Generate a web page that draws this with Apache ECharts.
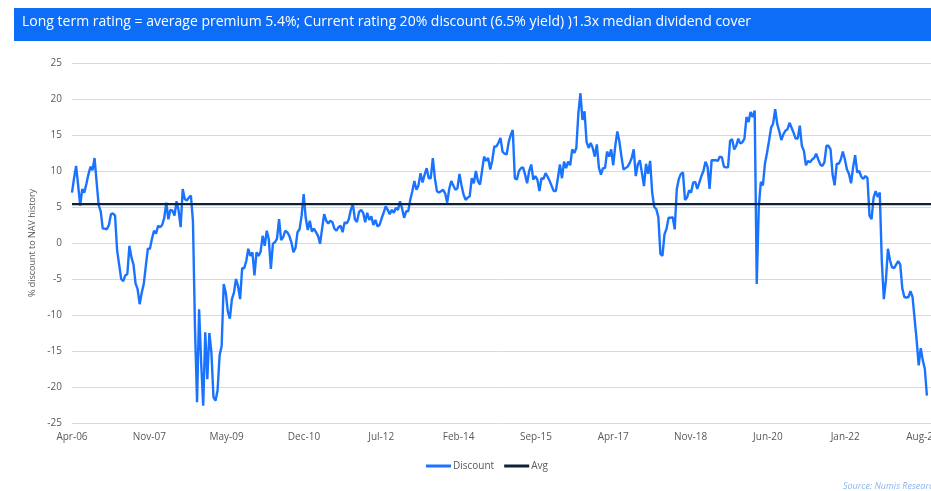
<!DOCTYPE html>
<html><head><meta charset="utf-8">
<script src="https://cdn.jsdelivr.net/npm/echarts@6/dist/echarts.min.js"></script>
<style>html,body{margin:0;padding:0;background:#fff}#c{width:931px;height:491px}</style>
</head><body><div id="c"></div>
<script>
const TITLE = "Long term rating = average premium 5.4%; Current rating 20% discount (6.5% yield) )1.3x median dividend cover";
const Y_NAME = "% discount to NAV history";
const SOURCE = "Source: Numis Research";
const seriesNames = ["Discount", "Avg"];
const tickLabels = ["Apr-06","Nov-07","May-09","Dec-10","Jul-12","Feb-14","Sep-15","Apr-17","Nov-18","Jun-20","Jan-22","Aug-23"];
const yTicks = { min: -25, max: 25, step: 5 };
const TICK_STEP = 37.714;   // semi-monthly points between axis labels
const X_MAX = 419;          // semi-monthly points in the axis span
const avgValue = 5.4;
// semi-monthly discount readings from Apr-06
const discount = [
 7.0, 9.0, 10.7, 8.0, 5.2, 7.5, 7.0, 8.2, 9.5, 10.6, 10.1, 11.8, 8.5, 5.3, 4.4, 2.0, 2.0, 1.9, 2.5, 4.0, 4.1, 3.8, -1.0, -3.0,
 -5.0, -5.3, -4.5, -4.3, -0.4, -2.0, -3.0, -5.6, -6.4, -8.5, -6.9, -5.7, -3.2, -0.8, -0.8, 0.6, 1.7, 1.3, 2.4, 2.2, 2.5, 3.5, 5.6, 3.3,
 4.6, 4.5, 3.8, 5.8, 4.5, 2.2, 7.5, 6.1, 5.9, 6.3, 6.6, 3.0, -11.9, -22.1, -9.2, -16.6, -22.6, -12.4, -18.9, -12.5, -15.2, -21.4, -21.9, -20.5,
 -15.6, -14.3, -5.7, -6.9, -9.5, -10.5, -7.8, -6.9, -5.0, -6.0, -7.8, -3.5, -3.5, -2.5, -0.8, -1.8, -1.3, -4.5, -1.3, -1.8, -1.2, 1.0, -0.4, 1.7,
 0.5, -3.6, -0.1, 0.1, 0.6, 3.3, 0.4, 0.8, 1.7, 1.5, 1.0, 0.1, -1.3, -0.7, 1.5, 1.9, 3.8, 6.8, 3.5, 1.8, 3.1, 1.6, 2.0, 1.5,
 1.0, -0.1, 2.0, 4.0, 3.1, 2.7, 3.1, 2.9, 2.0, 1.7, 2.2, 2.4, 1.5, 2.9, 2.7, 3.3, 4.6, 5.4, 3.3, 2.9, 4.3, 4.6, 4.2, 2.9,
 4.2, 3.2, 3.7, 2.5, 3.2, 2.3, 2.5, 3.4, 4.2, 5.1, 4.6, 4.0, 4.6, 4.2, 4.9, 4.6, 5.8, 4.8, 3.5, 4.4, 4.4, 6.0, 7.2, 8.6,
 7.4, 8.0, 9.7, 8.4, 9.5, 10.4, 9.0, 9.0, 11.8, 9.0, 7.2, 7.0, 7.2, 7.4, 6.9, 5.6, 7.5, 8.6, 8.0, 7.4, 7.6, 9.6, 8.0, 6.7,
 6.0, 6.3, 6.5, 9.0, 8.3, 10.0, 8.6, 8.1, 10.0, 12.0, 11.4, 11.8, 10.2, 11.5, 13.4, 13.4, 13.9, 14.6, 12.7, 12.4, 12.3, 14.0, 15.0, 15.7,
 9.0, 8.8, 10.0, 10.4, 10.5, 9.5, 8.3, 10.0, 10.9, 8.8, 9.3, 8.8, 7.2, 9.0, 8.9, 9.7, 9.2, 8.6, 7.9, 7.2, 7.2, 9.0, 10.9, 9.0,
 11.3, 10.4, 11.3, 10.8, 13.0, 12.5, 13.2, 18.0, 20.8, 17.1, 18.3, 14.0, 13.2, 13.9, 13.2, 12.0, 13.7, 10.5, 9.5, 10.4, 10.4, 12.7, 12.0, 13.0,
 10.8, 13.5, 15.5, 14.1, 12.0, 10.2, 10.4, 10.6, 11.1, 11.8, 13.0, 9.3, 10.9, 11.5, 9.7, 7.9, 11.0, 9.6, 11.4, 7.0, 5.0, 4.7, 3.6, -1.5,
 -1.8, 1.2, 2.0, 3.5, 3.5, 3.6, 1.9, 7.5, 8.9, 9.6, 9.8, 6.0, 6.3, 7.3, 7.0, 8.4, 8.5, 7.5, 8.4, 9.3, 10.0, 11.3, 10.6, 7.5,
 11.5, 11.5, 11.5, 11.4, 12.0, 11.9, 10.6, 10.5, 10.5, 14.2, 14.4, 13.0, 13.5, 14.5, 13.8, 14.0, 14.5, 17.5, 16.8, 18.2, 17.5, 18.4, -5.7, 5.0,
 8.5, 8.0, 11.0, 12.5, 14.2, 16.0, 16.6, 18.6, 16.5, 15.5, 14.3, 15.1, 15.6, 15.8, 16.7, 16.0, 15.3, 14.5, 14.5, 16.3, 13.5, 12.8, 10.8, 11.4,
 11.2, 11.6, 11.8, 12.4, 11.6, 10.9, 10.7, 11.2, 13.5, 13.5, 13.0, 9.5, 8.0, 11.0, 11.0, 11.6, 12.7, 11.6, 10.2, 9.6, 8.3, 10.5, 12.2, 9.8,
 10.0, 9.2, 8.9, 9.3, 9.0, 3.8, 3.3, 6.3, 7.2, 6.4, 7.0, -2.5, -7.8, -5.2, -0.8, -2.4, -3.4, -3.5, -3.0, -2.5, -3.0, -6.3, -7.5, -7.6,
 -7.5, -6.7, -7.5, -10.5, -13.5, -17.0, -14.6, -16.3, -17.5, -21.2
];

const FONT = "Open Sans";
const chart = echarts.init(document.getElementById('c'), null, { renderer: 'canvas' });
chart.setOption({
  animation: false,
  backgroundColor: '#ffffff',
  textStyle: { fontFamily: FONT },
  grid: { left: 72, right: 0, top: 63, bottom: 68, containLabel: false, outerBoundsMode: 'none' },
  legend: {
    data: seriesNames, left: 421, top: 456, icon: 'rect', itemWidth: 25, itemHeight: 3, itemGap: 10,
    textStyle: { fontSize: 10, color: '#595959', fontFamily: FONT, padding: [0, 0, 0, -3] }
  },
  xAxis: {
    type: 'value', min: 0, max: X_MAX, interval: TICK_STEP,
    axisLine: { show: false }, axisTick: { show: false }, splitLine: { show: false },
    axisLabel: {
      color: '#595959', fontSize: 10, margin: 9, fontFamily: FONT, hideOverlap: false,
      formatter: function (v) {
        const k = v / TICK_STEP, r = Math.round(k);
        return (Math.abs(k - r) < 0.01 && r < tickLabels.length) ? tickLabels[r] : '';
      }
    }
  },
  yAxis: {
    type: 'value', min: yTicks.min, max: yTicks.max, interval: yTicks.step,
    axisLine: { show: false }, axisTick: { show: false },
    splitLine: { lineStyle: { color: '#d9d9d9', width: 1 } },
    axisLabel: { color: '#595959', fontSize: 10, margin: 10, fontFamily: FONT },
    name: Y_NAME, nameLocation: 'middle', nameGap: 35, nameRotate: 90,
    nameTextStyle: { color: '#595959', fontSize: 9, fontFamily: FONT }
  },
  series: [
    { name: seriesNames[0], type: 'line', symbol: 'none', data: discount.map((v, i) => [i, v]),
      lineStyle: { color: '#1a73ff', width: 2.4 }, itemStyle: { color: '#1a73ff' } },
    { name: seriesNames[1], type: 'line', symbol: 'none', data: [[0, avgValue], [X_MAX, avgValue]],
      lineStyle: { color: '#0c2238', width: 2.2 }, itemStyle: { color: '#0c2238' } }
  ],
  graphic: [
    { type: 'rect', left: 14, top: 8, shape: { width: 917, height: 33 }, style: { fill: '#0e6df6' } },
    { type: 'text', left: 22, top: 15, style: { text: TITLE, fill: '#ffffff', fontSize: 14, fontFamily: FONT } },
    { type: 'text', left: 843, top: 482, style: { text: SOURCE, fill: '#8db4ee', fontSize: 9, fontStyle: 'italic', fontFamily: FONT } }
  ]
});
</script></body></html>
